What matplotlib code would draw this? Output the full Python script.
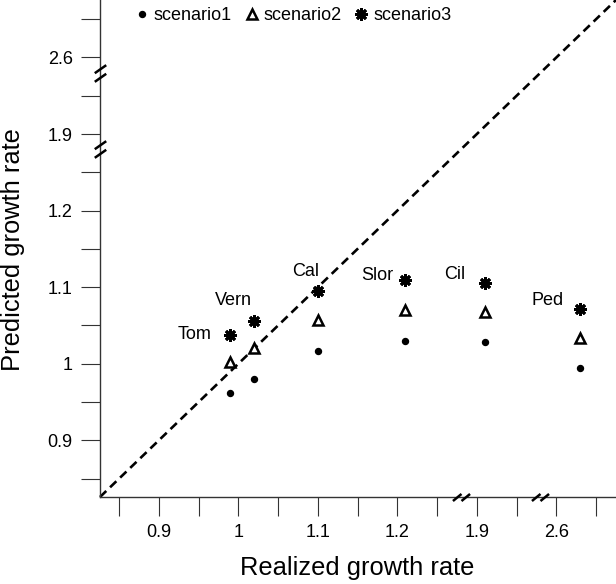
import numpy as np
import matplotlib.pyplot as plt
from matplotlib.path import Path
from matplotlib.transforms import blended_transform_factory

plt.rcParams['font.family'] = ['Liberation Sans', 'DejaVu Sans']

# data (realized vs predicted growth rates)
species = ['Tom', 'Vern', 'Cal', 'Slor', 'Cil', 'Ped']
realized = [0.99, 1.02, 1.10, 1.21, 1.91, 2.63]
scenario1 = [0.962, 0.980, 1.017, 1.030, 1.028, 0.994]
scenario2 = [1.002, 1.020, 1.057, 1.070, 1.067, 1.033]
scenario3 = [1.038, 1.056, 1.095, 1.110, 1.106, 1.072]

tick_values = [0.85, 0.9, 0.95, 1.0, 1.05, 1.1, 1.15, 1.2, 1.25, 1.9, 1.95, 2.6, 2.65]
tick_labels = ['', '0.9', '', '1', '', '1.1', '', '1.2', '', '1.9', '', '2.6', '']
break_values = [1.88, 2.58]
axis_limits = (0.826, 2.675)


# broken axis: 1.275..1.6 and 1.975..2.25 are cut out
def squash(v):
    v = np.asarray(v, dtype=float)
    return np.where(v < 1.6, v, np.where(v < 2.25, v - 0.6, v - 1.2))


def unsquash(d):
    d = np.asarray(d, dtype=float)
    return np.where(d < 1.275, d, np.where(d < 1.375, d + 0.6, d + 1.2))


fig = plt.figure(figsize=(6.16, 5.84), dpi=100)
ax = fig.add_axes([100 / 616, 87 / 584, 516 / 616, 497 / 584])

ax.set_xscale('function', functions=(squash, unsquash))
ax.set_yscale('function', functions=(squash, unsquash))
ax.set_xlim(axis_limits)
ax.set_ylim(axis_limits)

axis_col = '#333333'
for side in ['top', 'right']:
    ax.spines[side].set_visible(False)
for side in ['left', 'bottom']:
    ax.spines[side].set_color(axis_col)
    ax.spines[side].set_linewidth(1.0)

ax.set_xticks(tick_values, tick_labels)
ax.set_yticks(tick_values, tick_labels)
ax.minorticks_off()
ax.tick_params(axis='both', length=13.7, width=0.8, color=axis_col,
               labelsize=13, pad=6)

# 1:1 line
ax.plot(axis_limits, axis_limits, color='black', lw=1.9, dashes=(3.3, 2),
        clip_on=False, zorder=1)

s1, = ax.plot(realized, scenario1, linestyle='none', marker='o', ms=4.3,
              color='black', label='scenario1', clip_on=False)
s2, = ax.plot(realized, scenario2, linestyle='none', marker='^', ms=7.2,
              mfc='white', mec='black', mew=1.8, label='scenario2', clip_on=False)
s3, = ax.plot(realized, scenario3, linestyle='none', marker=(8, 2, 0), ms=9,
              mec='black', mew=2.0, label='scenario3', clip_on=False)

# species names next to the scenario3 points
label_offsets = {'Tom': (-36, 0), 'Vern': (-21, 20), 'Cal': (-12, 20),
                 'Slor': (-28, 4), 'Cil': (-30, 8), 'Ped': (-33, 8)}
for name, x, y in zip(species, realized, scenario3):
    ax.annotate(name, (x, y), xytext=label_offsets[name],
                textcoords='offset pixels', ha='center', va='center',
                fontsize=13)

# break marks on both axes
xslash = Path([(-8.5, -3.5), (0, 3.5), (0, -3.5), (8.5, 3.5)],
              [Path.MOVETO, Path.LINETO, Path.MOVETO, Path.LINETO])
yslash = Path([(-5.7, 0.3), (5.7, 8.3), (-5.7, -8.3), (5.7, -0.3)],
              [Path.MOVETO, Path.LINETO, Path.MOVETO, Path.LINETO])
xtrans = blended_transform_factory(ax.transData, ax.transAxes)
ytrans = blended_transform_factory(ax.transAxes, ax.transData)
for b in break_values:
    ax.plot([b], [0], transform=xtrans, marker=xslash, ms=12.3, mfc='none',
            mec='black', mew=1.8, clip_on=False, zorder=5)
    ax.plot([0], [b], transform=ytrans, marker=yslash, ms=12.0, mfc='none',
            mec='black', mew=1.8, clip_on=False, zorder=5)

ax.legend(handles=[s1, s2, s3], loc='upper left', bbox_to_anchor=(0.071, 0.985),
          ncol=3, frameon=False, fontsize=13, handlelength=0.6,
          handletextpad=0.35, columnspacing=0.8, borderpad=0, borderaxespad=0)

fig.text(357 / 616, 1 - 568 / 584, 'Realized growth rate', ha='center',
         va='center', fontsize=18.4)
fig.text(13 / 616, 1 - 250 / 584, 'Predicted growth rate', ha='center',
         va='center', rotation=90, fontsize=18.4)

fig.savefig('out.png', dpi=100)
